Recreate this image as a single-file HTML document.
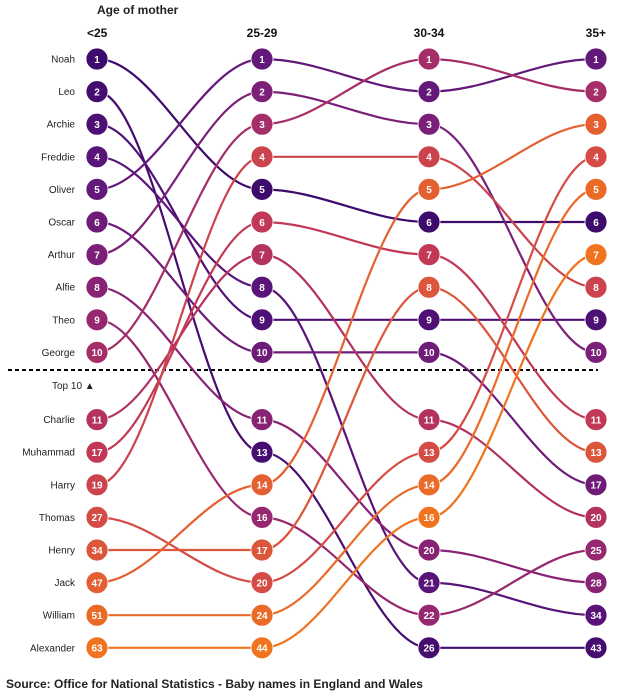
<!DOCTYPE html>
<html><head><meta charset="utf-8">
<style>
body{margin:0;background:#fff;font-family:"Liberation Sans",Arial,sans-serif;}
svg{display:block}
</style></head>
<body>
<svg id="chart" width="619" height="694" xmlns="http://www.w3.org/2000/svg">
<text x="97" y="14" font-size="12" font-weight="bold" fill="#222">Age of mother</text>
<text x="87" y="37" font-size="12" font-weight="bold" fill="#111">&lt;25</text>
<text x="262" y="37" font-size="12" font-weight="bold" fill="#111" text-anchor="middle">25-29</text>
<text x="429" y="37" font-size="12" font-weight="bold" fill="#111" text-anchor="middle">30-34</text>
<text x="606" y="37" font-size="12" font-weight="bold" fill="#111" text-anchor="end">35+</text>
<line x1="8" y1="370" x2="598" y2="370" stroke="#000" stroke-width="2" stroke-dasharray="4,3"/>
<text x="52" y="389" font-size="10" fill="#222">Top 10 ▲</text>
<g id="lines"></g><g id="nodes"></g><g id="labels"></g>
<text x="6" y="688" font-size="12" font-weight="bold" fill="#222">Source: Office for National Statistics - Baby names in England and Wales</text>
</svg>
<script>
const names = ["Noah","Leo","Archie","Freddie","Oliver","Oscar","Arthur","Alfie","Theo","George","Charlie","Muhammad","Harry","Thomas","Henry","Jack","William","Alexander"];
const rankUnder25 = [1,2,3,4,5,6,7,8,9,10,11,17,19,27,34,47,51,63];
const rank25to29 = [5,13,9,8,1,10,2,11,16,3,7,6,4,20,17,14,24,44];
const rank30to34 = [6,26,9,21,2,10,3,20,22,1,11,7,4,13,8,5,14,16];
const rank35plus = [6,43,9,34,1,17,10,28,25,2,20,11,8,4,13,3,5,7];
const columns = [rankUnder25, rank25to29, rank30to34, rank35plus];
const colX = [97, 262, 429, 596];
const NS = "http://www.w3.org/2000/svg";
const stops = ["#3d0b6b","#4f1076","#661a7a","#7f2078","#9e2a6c","#bd3559","#d24a47","#e35f32","#f07420"];
function hex(c){return [1,3,5].map(i=>parseInt(c.substr(i,2),16));}
function colorAt(t){const s=t*(stops.length-1);const i=Math.min(Math.floor(s),stops.length-2);const f=s-i;
 const a=hex(stops[i]),b=hex(stops[i+1]);return "rgb("+a.map((v,k)=>Math.round(v+(b[k]-v)*f)).join(",")+")";}
function yPos(p){return 59+p*32.6+(p>=10?34.6:0);}
function positions(col){const idx=col.map((v,i)=>i).sort((a,b)=>col[a]-col[b]);const pos=[];idx.forEach((n,p)=>pos[n]=p);return pos;}
const pos = columns.map(positions);
const lines=document.getElementById("lines"),nodes=document.getElementById("nodes"),labels=document.getElementById("labels");
const n=names.length;
const colorOf = names.map((_,i)=>colorAt(pos[0][i]/(n-1)));
names.forEach((nm,i)=>{
  let d="";
  for(let c=0;c<3;c++){
    const x0=colX[c],x1=colX[c+1],y0=yPos(pos[c][i]),y1=yPos(pos[c+1][i]),k=(x1-x0)*0.35;
    d+=(c===0?"M"+x0+","+y0:"")+" C"+(x0+k)+","+y0+" "+(x1-k)+","+y1+" "+x1+","+y1;
  }
  const p=document.createElementNS(NS,"path");
  p.setAttribute("d",d);p.setAttribute("fill","none");p.setAttribute("stroke",colorOf[i]);p.setAttribute("stroke-width","2.2");
  
  
  lines.appendChild(p);
  const lb=document.createElementNS(NS,"text");
  lb.setAttribute("x",75);lb.setAttribute("y",yPos(pos[0][i])+3.5);lb.setAttribute("font-size","10");lb.setAttribute("text-anchor","end");lb.setAttribute("fill","#222");
  lb.textContent=nm;
  
  
  labels.appendChild(lb);
  for(let c=0;c<4;c++){
    const g=document.createElementNS(NS,"g");
    
    
    const cx=colX[c],cy=yPos(pos[c][i]);
    const ci=document.createElementNS(NS,"circle");
    ci.setAttribute("cx",cx);ci.setAttribute("cy",cy);ci.setAttribute("r",11);ci.setAttribute("fill",colorOf[i]);ci.setAttribute("stroke","#fff");ci.setAttribute("stroke-width","0.8");
    const t=document.createElementNS(NS,"text");
    t.setAttribute("x",cx);t.setAttribute("y",cy+3.8);t.setAttribute("text-anchor","middle");t.setAttribute("font-size","10");t.setAttribute("font-weight","bold");t.setAttribute("fill","#fff");
    t.textContent=columns[c][i];
    g.appendChild(ci);g.appendChild(t);nodes.appendChild(g);
  }
});
</script>
</body></html>
